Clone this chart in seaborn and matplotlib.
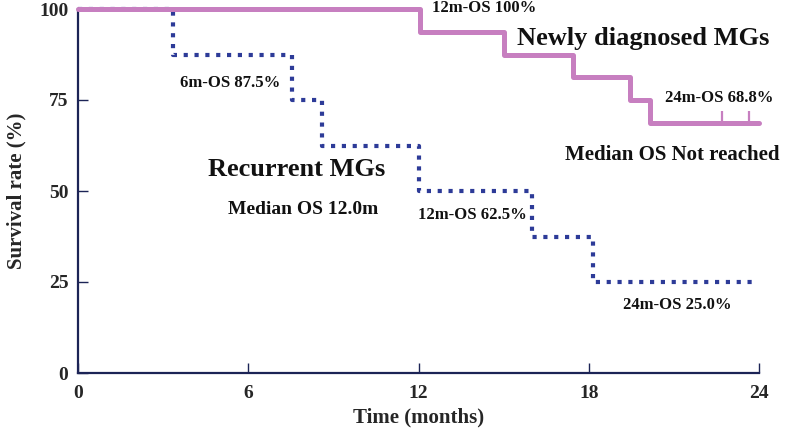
import matplotlib
matplotlib.use("Agg")
import matplotlib.pyplot as plt
import seaborn as sns
import pandas as pd

# Kaplan-Meier step data
new_time = [0, 12.05, 15.0, 17.45, 19.45, 20.15, 24.0]
new_surv = [100, 93.75, 87.5, 81.25, 75.0, 68.75, 68.75]
new_censor_time = [22.7, 23.65]
new_censor_surv = [68.75, 68.75]

rec_time = [0, 3.35, 7.55, 8.6, 12.0, 16.0, 18.15, 23.75]
rec_surv = [100, 87.5, 75.0, 62.5, 50.0, 37.5, 25.0, 25.0]

x_ticks = [0, 6, 12, 18, 24]
y_ticks = [0, 25, 50, 75, 100]

# text labels: (text, x, y, size)
annotations = [
    ("12m-OS 100%", 12.47, 100.3, 12),
    ("Newly diagnosed MGs", 15.47, 91.8, 19),
    ("24m-OS 68.8%", 20.69, 75.5, 12),
    ("Median OS Not reached", 17.16, 59.9, 15),
    ("6m-OS 87.5%", 3.6, 79.7, 12),
    ("Recurrent MGs", 4.58, 55.8, 19),
    ("Median OS 12.0m", 5.29, 44.8, 14),
    ("12m-OS 62.5%", 11.98, 43.4, 12),
    ("24m-OS 25.0%", 19.2, 18.7, 12),
]

pink = "#c77fc0"
blue = "#2d3b98"
navy = "#1c2456"

sns.set_style("ticks")
plt.rcParams["font.family"] = ["Liberation Serif", "DejaVu Serif"]
plt.rcParams["font.weight"] = "bold"

df_new = pd.DataFrame({"t": new_time, "s": new_surv})
df_rec = pd.DataFrame({"t": rec_time, "s": rec_surv})

fig = plt.figure(figsize=(7.96, 4.37), dpi=100)
ax = fig.add_axes([78 / 796, 1 - 373 / 437, 681 / 796, 364 / 437])

sns.lineplot(data=df_rec, x="t", y="s", ax=ax, color=blue, lw=3.0,
             drawstyle="steps-post", estimator=None, sort=False,
             linestyle=(0, (1, 1.6)), zorder=2, clip_on=False)
sns.lineplot(data=df_new, x="t", y="s", ax=ax, color=pink, lw=3.6,
             drawstyle="steps-post", estimator=None, sort=False,
             zorder=3, clip_on=False)
ax.plot(new_censor_time, new_censor_surv, linestyle="none", marker=2,
        markersize=9, mew=1.6, color=pink, zorder=3, clip_on=False)

for txt, x, y, size in annotations:
    ax.text(x, y, txt, fontsize=size, fontweight="bold", ha="left",
            va="center", color="#111111")

ax.set_xlim(0, 24)
ax.set_ylim(0, 100)
ax.set_xticks(x_ticks)
ax.set_yticks(y_ticks)
ax.tick_params(direction="in", length=7, width=1.0, color=navy,
               labelsize=14, pad=7)
ax.tick_params(axis="x", pad=9)
for lab in ax.get_xticklabels() + ax.get_yticklabels():
    lab.set_fontweight("bold")

sns.despine(ax=ax)
for side in ["left", "bottom"]:
    ax.spines[side].set_color(navy)
    ax.spines[side].set_linewidth(1.6)

ax.set_xlabel("Time (months)", fontsize=15, fontweight="bold")
ax.set_ylabel("Survival rate (%)", fontsize=15, fontweight="bold")
ax.xaxis.set_label_coords(0.5, -0.095)
ax.yaxis.set_label_coords(-0.075, 0.5)

fig.savefig("out.png", dpi=100)
